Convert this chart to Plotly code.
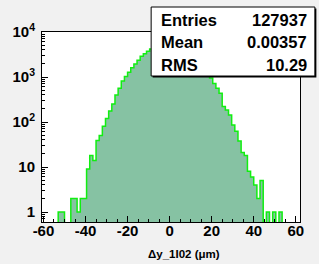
import plotly.graph_objects as go

# ---- data ----
bin_low = -60.5
bin_width = 1.5
counts = [0, 0, 0, 0, 0, 1, 1, 0, 0, 2,
          2, 1, 2, 2, 9, 18, 14, 39, 50, 80,
          120, 175, 250, 400, 560, 820, 1030, 1280, 1600, 1950,
          2350, 2900, 3300, 3750, 4200, 5000, 5800, 6500, 7100, 7500,
          7650, 7550, 7200, 6700, 6100, 5400, 4700, 4000, 3300, 2650,
          2100, 1650, 1250, 950, 720, 560, 435, 220, 185, 143,
          86, 62, 38, 21, 18, 8, 6, 4, 2, 5,
          0, 1, 0, 1, 0, 1, 0, 0, 0, 0, 0]
x_tickvals = [-60, -40, -20, 0, 20, 40, 60]
x_ticktext = ["-60", "-40", "-20", "0", "20", "40", "60"]
y_tickvals = [1, 10, 100, 1000, 10000]
y_ticktext = ["1", "10", "10<sup>2</sup>", "10<sup>3</sup>", "10<sup>4</sup>"]
stats_labels = ["Entries", "Mean", "RMS"]
stats_values = ["127937", "0.00357", "10.29"]
x_title = "Δy_1I02 (μm)"

centers = [bin_low + bin_width * (i + 0.5) for i in range(len(counts))]
line_y = [c if c > 0 else 1e-3 for c in counts]

FILL = "#86c2a3"
LINE = "#11ee11"
FONT = "Liberation Sans, Arial, Helvetica, sans-serif"

fig = go.Figure()
fig.add_trace(go.Bar(x=centers, y=counts, width=bin_width,
                     marker=dict(color=FILL, line=dict(width=0)),
                     hoverinfo="skip"))
fig.add_trace(go.Scatter(x=centers, y=line_y, mode="lines",
                         line=dict(color=LINE, width=1.5, shape="hvh"),
                         hoverinfo="skip"))

W, H = 319, 264
L, R, T, B = 40, 19, 32, 42
pw, ph = W - L - R, H - T - B

def px(xp):
    return (xp - L) / pw

def py(yp):
    return (H - B - yp) / ph

y_minor = []
for d in [0.1, 1, 10, 100, 1000]:
    for m in range(2, 10):
        y_minor.append(d * m)

fig.update_layout(
    width=W, height=H,
    margin=dict(l=L, r=R, t=T, b=B),
    paper_bgcolor="#f1f1f1",
    plot_bgcolor="white",
    showlegend=False,
    bargap=0,
    font=dict(family=FONT, color="black"),
    xaxis=dict(range=[-60.7, 62.0], tickvals=x_tickvals, ticktext=x_ticktext,
               ticks="inside", ticklen=6, tickcolor="black", tickwidth=1,
               showgrid=False, zeroline=False,
               showline=True, linecolor="black", linewidth=1, mirror=True,
               tickfont=dict(size=15, family=FONT, weight="bold"),
               ticklabelstandoff=-5,
               minor=dict(ticks="inside", ticklen=3, dtick=5, tick0=0,
                          tickcolor="black", showgrid=False)),
    yaxis=dict(type="log", range=[-0.222, 4.0], tickvals=y_tickvals, ticktext=y_ticktext,
               ticks="inside", ticklen=6, tickcolor="black", tickwidth=1,
               showgrid=False, zeroline=False,
               showline=True, linecolor="black", linewidth=1, mirror=True,
               tickfont=dict(size=15, family=FONT, weight="bold"),
               ticklabelstandoff=3,
               minor=dict(ticks="inside", ticklen=3, tickvals=y_minor,
                          tickcolor="black", showgrid=False)),
)

# stats box with shadow
fig.add_shape(type="rect", xref="paper", yref="paper",
              x0=px(151.5), x1=px(316.5), y0=py(77.5), y1=py(8.5),
              fillcolor="black", line=dict(width=0))
fig.add_shape(type="rect", xref="paper", yref="paper",
              x0=px(150), x1=px(315), y0=py(76), y1=py(7),
              fillcolor="white", line=dict(color="black", width=1))

row_y = [20.5, 42.5, 64.5]
for lab, val, yy in zip(stats_labels, stats_values, row_y):
    fig.add_annotation(x=px(158), y=py(yy), xref="paper", yref="paper",
                       text=lab, showarrow=False, xanchor="left", yanchor="middle",
                       font=dict(size=16.5, family=FONT, weight="bold"))
    fig.add_annotation(x=px(309), y=py(yy), xref="paper", yref="paper",
                       text=val, showarrow=False, xanchor="right", yanchor="middle",
                       font=dict(size=16.5, family=FONT, weight="bold"))

fig.add_annotation(x=px(183), y=py(254), xref="paper", yref="paper",
                   text=x_title, showarrow=False, xanchor="center", yanchor="middle",
                   font=dict(size=11.5, family=FONT, weight="bold"))

fig.write_html("out.html", config={"displayModeBar": False},
               post_script="document.body.style.margin='0';document.body.style.overflow='hidden';")
